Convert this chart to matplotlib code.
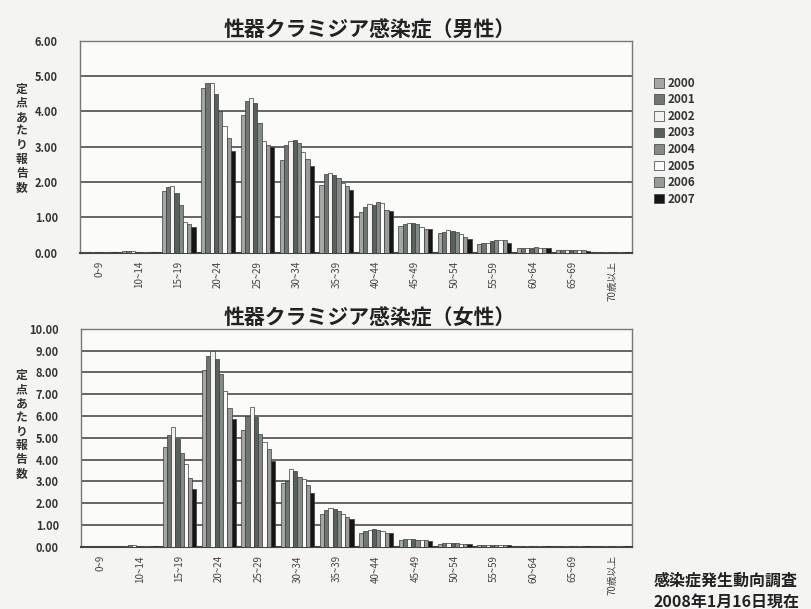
import numpy as np
import matplotlib
matplotlib.use('Agg')
import matplotlib.pyplot as plt

plt.rcParams['font.family'] = ['Noto Sans CJK JP', 'DejaVu Sans']

# 年齢階級
ages = ['0~9', '10~14', '15~19', '20~24', '25~29', '30~34', '35~39',
        '40~44', '45~49', '50~54', '55~59', '60~64', '65~69', '70歳以上']
years = ['2000', '2001', '2002', '2003', '2004', '2005', '2006', '2007']

# 男性（定点あたり報告数）
male_2000 = [0.01, 0.05, 1.74, 4.65, 3.90, 2.63, 1.93, 1.15, 0.75, 0.55, 0.25, 0.12, 0.07, 0.02]
male_2001 = [0.01, 0.04, 1.87, 4.80, 4.30, 3.05, 2.22, 1.30, 0.82, 0.60, 0.28, 0.13, 0.08, 0.02]
male_2002 = [0.01, 0.04, 1.88, 4.80, 4.38, 3.15, 2.26, 1.38, 0.85, 0.65, 0.28, 0.14, 0.08, 0.02]
male_2003 = [0.01, 0.03, 1.68, 4.50, 4.25, 3.20, 2.20, 1.35, 0.85, 0.62, 0.32, 0.14, 0.08, 0.02]
male_2004 = [0.01, 0.03, 1.34, 4.02, 3.68, 3.10, 2.12, 1.45, 0.82, 0.58, 0.36, 0.15, 0.08, 0.02]
male_2005 = [0.01, 0.03, 0.86, 3.60, 3.15, 2.85, 1.98, 1.40, 0.72, 0.52, 0.37, 0.14, 0.07, 0.02]
male_2006 = [0.01, 0.03, 0.82, 3.25, 3.05, 2.65, 1.88, 1.22, 0.68, 0.45, 0.35, 0.14, 0.07, 0.02]
male_2007 = [0.01, 0.02, 0.74, 2.88, 2.98, 2.45, 1.78, 1.18, 0.68, 0.40, 0.28, 0.13, 0.06, 0.02]

# 女性（定点あたり報告数）
female_2000 = [0.01, 0.06, 4.60, 8.10, 5.35, 2.95, 1.50, 0.62, 0.32, 0.15, 0.08, 0.05, 0.04, 0.03]
female_2001 = [0.01, 0.07, 5.15, 8.75, 6.00, 3.00, 1.70, 0.72, 0.35, 0.18, 0.08, 0.05, 0.04, 0.03]
female_2002 = [0.01, 0.07, 5.50, 9.00, 6.40, 3.55, 1.78, 0.78, 0.35, 0.20, 0.09, 0.06, 0.04, 0.03]
female_2003 = [0.01, 0.06, 4.95, 8.60, 5.95, 3.50, 1.75, 0.80, 0.35, 0.20, 0.09, 0.06, 0.04, 0.03]
female_2004 = [0.01, 0.06, 4.30, 7.95, 5.20, 3.20, 1.65, 0.78, 0.33, 0.18, 0.09, 0.06, 0.04, 0.03]
female_2005 = [0.01, 0.05, 3.80, 7.15, 4.80, 3.10, 1.50, 0.72, 0.32, 0.15, 0.08, 0.05, 0.04, 0.03]
female_2006 = [0.01, 0.05, 3.15, 6.35, 4.50, 2.85, 1.35, 0.65, 0.30, 0.14, 0.08, 0.05, 0.03, 0.03]
female_2007 = [0.01, 0.05, 2.65, 5.85, 3.95, 2.45, 1.28, 0.62, 0.28, 0.12, 0.07, 0.05, 0.03, 0.02]

male = [male_2000, male_2001, male_2002, male_2003, male_2004, male_2005, male_2006, male_2007]
female = [female_2000, female_2001, female_2002, female_2003, female_2004, female_2005, female_2006, female_2007]

couleurs = ['#a3a8a5', '#6f7672', '#f3f4f2', '#58615c', '#848b87', '#fafafa', '#979c99', '#151515']

bg = '#f4f4f2'
grid_col = '#5a5a5a'

fig = plt.figure(figsize=(8.12, 6.09), dpi=100, facecolor=bg)

ax1 = fig.add_axes([0.0985, 0.585, 0.680, 0.348])
ax2 = fig.add_axes([0.100, 0.102, 0.678, 0.358])


def draw(ax, data, ymax, step, titre):
    x = np.arange(len(ages))
    n = len(data)
    w = 0.86 / n
    ax.set_facecolor('#fbfbfa')
    for i, vals in enumerate(data):
        ax.bar(x - 0.43 + w * (i + 0.5), vals, width=w, color=couleurs[i],
               edgecolor='#3a3a3a', linewidth=0.5, label=years[i], zorder=3)
    ax.set_xlim(-0.5, len(ages) - 0.5)
    ax.set_ylim(0, ymax)
    ticks = np.arange(0, ymax + step / 2, step)
    ax.set_yticks(ticks)
    ax.set_yticklabels([f'{t:.2f}' for t in ticks], fontsize=8, color='#333333',
                       fontweight='bold')
    ax.yaxis.grid(True, color=grid_col, linewidth=1.3, zorder=1)
    ax.set_xticks(x)
    ax.set_xticklabels(ages, rotation=90, fontsize=7, color='#444444', va='top')
    ax.tick_params(axis='y', length=0, pad=16)
    ax.tick_params(axis='x', length=0, pad=6)
    for s in ax.spines.values():
        s.set_color('#777777')
        s.set_linewidth(1.0)
    ax.spines['bottom'].set_color('#444444')
    ax.spines['bottom'].set_linewidth(1.5)
    ax.set_ylabel('\n'.join('定点あたり報告数'), rotation=0, fontsize=8.5,
                  fontweight='bold', color='#333333', linespacing=1.1,
                  va='center')
    ax.set_title(titre, fontsize=15, fontweight='bold', color='#222222', pad=3,
                 x=0.525)


draw(ax1, male, 6, 1, '性器クラミジア感染症（男性）')
draw(ax2, female, 10, 1, '性器クラミジア感染症（女性）')
ax1.yaxis.set_label_coords(-0.105, 0.54)
ax2.yaxis.set_label_coords(-0.108, 0.56)

leg = ax1.legend(loc='upper left', bbox_to_anchor=(1.02, 0.88), frameon=False,
                 fontsize=8.5, handlelength=0.9, handleheight=0.9,
                 handletextpad=0.3, labelspacing=0.3)
for t in leg.get_texts():
    t.set_color('#333333')
    t.set_fontweight('bold')

fig.text(0.805, 0.038, '感染症発生動向調査', fontsize=11.5, fontweight='bold', color='#222222')
fig.text(0.805, 0.004, '2008年1月16日現在', fontsize=11.5, fontweight='bold', color='#222222')

plt.savefig('out.png', dpi=100, facecolor=bg)
